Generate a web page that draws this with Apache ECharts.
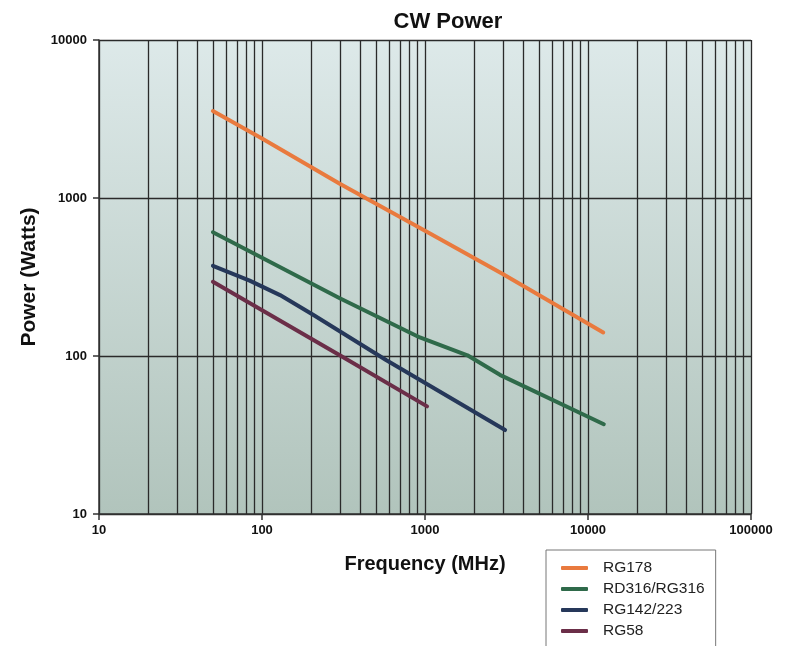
<!DOCTYPE html>
<html lang="en">
<head>
    <meta charset="UTF-8">
    <title>CW Power</title>
    <script src="https://cdn.jsdelivr.net/npm/echarts@6/dist/echarts.min.js"></script>
</head>
<style>
    *{
        margin: 0;
        padding: 0;
    }
    html , body{
        width: 789px;
        height: 646px;
        background: #fff;
    }
    .container{
        width: 789px;
        height: 646px;
    }
</style>
<body>
<div class="container"></div>
<script>
    // cable names for the legend
    let cables = ['RG178', 'RD316/RG316', 'RG142/223', 'RG58'];
    let colors = ['#e97a3e', '#2f6a4a', '#26385a', '#6b2e48'];

    // [frequency MHz, power W]
    let rg178 = [[50, 3550], [100, 2380], [300, 1230], [1000, 620], [3000, 330], [12400, 141]];
    let rg316 = [[50, 607], [100, 419], [300, 232], [930, 131], [1820, 101], [2880, 76], [12500, 37]];
    let rg142 = [[50, 372], [84, 300], [129, 243], [207, 182], [580, 94], [3100, 34]];
    let rg58 = [[50, 295], [300, 101], [1030, 48]];

    // vertical grid lines between the decades
    let minorGrid = [];
    [10, 100, 1000, 10000].forEach(d => {
        for (let m = 2; m <= 9; m++) minorGrid.push(m * d);
    });

    let container = document.querySelector('.container');
    let mycharts = echarts.init(container);

    let lines = [rg178, rg316, rg142, rg58];
    let series = lines.map((d, i) => ({
        name: cables[i],
        type: 'line',
        data: d,
        symbol: 'none',
        lineStyle: {width: 4, color: colors[i], cap: 'round', join: 'round'},
        itemStyle: {color: colors[i]},
        z: 5
    }));
    series.push({
        name: 'grid',
        type: 'line',
        data: [],
        silent: true,
        z: 1,
        markLine: {
            silent: true,
            symbol: 'none',
            label: {show: false},
            lineStyle: {color: '#2a2a2a', width: 1.3, type: 'solid'},
            data: minorGrid.map(v => ({xAxis: v}))
        }
    });

    let bold = {fontFamily: 'Liberation Sans', fontWeight: 'bold', color: '#111'};

    let options = {
        animation: false,
        title: {
            text: 'CW Power',
            left: 443,
            top: 6,
            textAlign: 'center',
            textStyle: Object.assign({fontSize: 22}, bold)
        },
        grid: {
            left: 99,
            right: 38,
            top: 40,
            bottom: 132,
            show: true,
            borderWidth: 0,
            backgroundColor: {
                type: 'linear', x: 0, y: 0, x2: 0, y2: 1,
                colorStops: [{offset: 0, color: '#dde9e9'}, {offset: 1, color: '#b1c4bc'}]
            }
        },
        legend: {
            data: cables,
            orient: 'vertical',
            left: 546,
            top: 550,
            height: 200,
            padding: [10, 11, 40, 15],
            itemGap: 5,
            itemWidth: 27,
            itemHeight: 4,
            icon: 'roundRect',
            borderColor: '#777',
            borderWidth: 1,
            textStyle: {fontFamily: 'Liberation Sans', fontSize: 15.5, color: '#222', lineHeight: 15, padding: [0, 0, 0, 10]}
        },
        xAxis: {
            type: 'log',
            logBase: 10,
            min: 10,
            max: 100000,
            name: 'Frequency (MHz)',
            nameLocation: 'middle',
            nameGap: 40,
            nameTextStyle: Object.assign({fontSize: 20}, bold),
            axisLine: {lineStyle: {color: '#333', width: 1.5}},
            axisTick: {show: true, length: 6, lineStyle: {color: '#333', width: 1.5}},
            axisLabel: Object.assign({fontSize: 13, margin: 10, formatter: v => String(v)}, bold),
            splitLine: {show: true, lineStyle: {color: '#2a2a2a', width: 1.3}},
            minorTick: {show: false},
            minorSplitLine: {show: false}
        },
        yAxis: {
            type: 'log',
            logBase: 10,
            min: 10,
            max: 10000,
            name: 'Power (Watts)',
            nameLocation: 'middle',
            nameGap: 59,
            nameTextStyle: Object.assign({fontSize: 21}, bold),
            axisLine: {show: true, lineStyle: {color: '#333', width: 1.5}},
            axisTick: {show: true, length: 6, lineStyle: {color: '#333', width: 1.5}},
            axisLabel: Object.assign({fontSize: 13, margin: 12, formatter: v => String(v)}, bold),
            splitLine: {show: true, lineStyle: {color: '#2a2a2a', width: 1.3}}
        },
        series,
    };

    mycharts.setOption(options);
</script>
</body>
</html>
